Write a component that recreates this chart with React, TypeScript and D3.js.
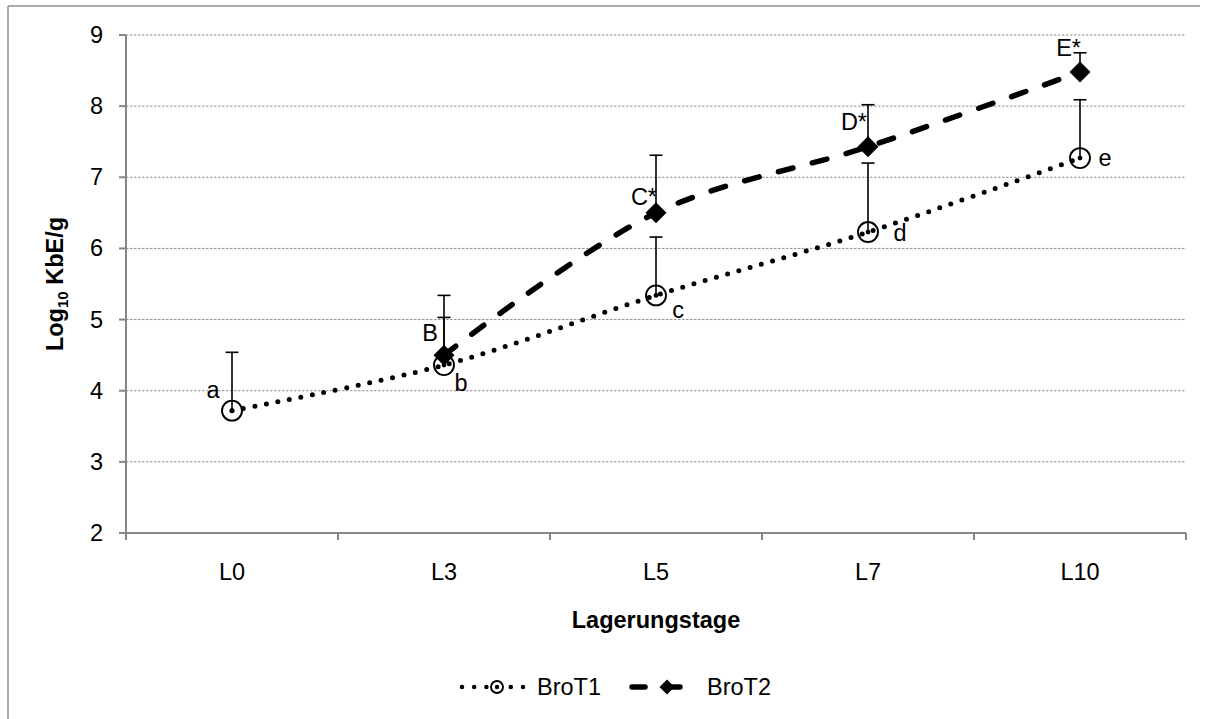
import React from "react";
import * as d3 from "d3";

const categories = ["L0", "L3", "L5", "L7", "L10"];
const brot1Values = [3.72, 4.36, 5.34, 6.23, 7.27];
const brot1ErrTop = [4.54, 5.03, 6.16, 7.2, 8.09];
const brot1Letters = ["a", "b", "c", "d", "e"];
const brot2Values = [null, 4.5, 6.5, 7.43, 8.48];
const brot2ErrTop = [null, 5.34, 7.31, 8.02, 8.75];
const brot2Letters = [null, "B", "C*", "D*", "E*"];
const yTicks = [2, 3, 4, 5, 6, 7, 8, 9];
const seriesNames = ["BroT1", "BroT2"];

// label placement (style, not data): [dx, dy, anchor]
const brot1LabelPos: [number, number, string][] = [
  [-19, -13, "middle"],
  [17, 26, "middle"],
  [22, 23, "middle"],
  [32, 9, "middle"],
  [25, 8, "middle"],
];
const brot2LabelPos: [number, number, string][] = [
  [0, 0, "middle"],
  [-14, -14, "middle"],
  [1, -8, "end"],
  [-1, -17, "end"],
  [1, -16, "end"],
];

if (typeof document !== "undefined") document.body.style.margin = "0";

const W = 1210;
const H = 719;
const FONT = "'Liberation Sans', Arial, sans-serif";
const FS = 23.5;

export default function App() {
  const left = 126;
  const right = 1186;
  const top = 35;
  const bottom = 533;
  const x = d3.scaleBand().domain(categories).range([left, right]);
  const cx = (c: string) => (x(c) as number) + x.bandwidth() / 2;
  const y = d3.scaleLinear().domain([2, 9]).range([bottom, top]);

  const line = d3
    .line<[number, number]>()
    .x((d) => d[0])
    .y((d) => d[1])
    .curve(d3.curveCatmullRom.alpha(0.5));

  const p1: [number, number][] = categories.map((c, i) => [cx(c), y(brot1Values[i])]);
  const p2: [number, number][] = [];
  categories.forEach((c, i) => {
    const v = brot2Values[i];
    if (v !== null) p2.push([cx(c), y(v)]);
  });

  const diamond = (px: number, py: number, r: number) =>
    `M${px},${py - r}L${px + r},${py}L${px},${py + r}L${px - r},${py}Z`;

  const boundaries = d3.range(categories.length + 1).map((i) => left + i * x.bandwidth());
  const gray = "#868686";

  return (
    <svg width={W} height={H} style={{ display: "block" }} fontFamily={FONT}>
      <rect x={0} y={0} width={W} height={H} fill="#fff" />
      {/* outer frame */}
      <line x1={8} y1={6} x2={1200} y2={6} stroke="#8c8c8c" strokeWidth={1.5} />
      <line x1={8} y1={6} x2={8} y2={H} stroke="#8c8c8c" strokeWidth={1.5} />

      {/* gridlines */}
      {yTicks.slice(1).map((t) => (
        <line
          key={"g" + t}
          x1={left}
          x2={right}
          y1={y(t)}
          y2={y(t)}
          stroke="#8c8c8c"
          strokeWidth={1}
          strokeDasharray="2.5 1.5"
        />
      ))}

      {/* axes */}
      <line x1={left} x2={left} y1={top} y2={bottom} stroke={gray} strokeWidth={2} />
      <line x1={left - 7} x2={right} y1={bottom} y2={bottom} stroke={gray} strokeWidth={2} />
      {yTicks.map((t) => (
        <g key={"yt" + t}>
          <line x1={left - 7} x2={left} y1={y(t)} y2={y(t)} stroke={gray} strokeWidth={2} />
          <text x={103} y={y(t) + 8} textAnchor="end" fontSize={FS} fill="#000">
            {t}
          </text>
        </g>
      ))}
      {boundaries.map((b, i) => (
        <line key={"xt" + i} x1={b} x2={b} y1={bottom} y2={bottom + 7} stroke={gray} strokeWidth={2} />
      ))}
      {categories.map((c) => (
        <text key={"xl" + c} x={cx(c)} y={580} textAnchor="middle" fontSize={FS} fill="#000">
          {c}
        </text>
      ))}

      {/* axis titles */}
      <text x={(left + right) / 2} y={628} textAnchor="middle" fontSize={FS} fontWeight="bold">
        Lagerungstage
      </text>
      <text
        transform={`translate(63,${(top + bottom) / 2}) rotate(-90)`}
        textAnchor="middle"
        fontSize={FS}
        fontWeight="bold"
      >
        Log
        <tspan fontSize={15} dy={5}>
          10
        </tspan>
        <tspan dy={-5}> KbE/g</tspan>
      </text>

      {/* lines */}
      <path
        d={line(p1) || ""}
        fill="none"
        stroke="#000"
        strokeWidth={5}
        strokeLinecap="round"
        strokeDasharray="0 11.7"
      />
      <path
        d={line(p2) || ""}
        fill="none"
        stroke="#000"
        strokeWidth={5.5}
        strokeLinecap="round"
        strokeDasharray="15 20"
      />

      {/* error bars */}
      {categories.map((c, i) => {
        const px = cx(c);
        const y0 = y(brot1Values[i]);
        const y1 = y(brot1ErrTop[i]);
        return (
          <g key={"e1" + c} stroke="#000" strokeWidth={1.6}>
            <line x1={px} x2={px} y1={y0} y2={y1} />
            <line x1={px - 6.5} x2={px + 6.5} y1={y1} y2={y1} />
          </g>
        );
      })}
      {categories.map((c, i) => {
        const v = brot2Values[i];
        const e = brot2ErrTop[i];
        if (v === null || e === null) return null;
        const px = cx(c);
        return (
          <g key={"e2" + c} stroke="#000" strokeWidth={1.6}>
            <line x1={px} x2={px} y1={y(v)} y2={y(e)} />
            <line x1={px - 6.5} x2={px + 6.5} y1={y(e)} y2={y(e)} />
          </g>
        );
      })}

      {/* markers */}
      {categories.map((c, i) => (
        <g key={"m1" + c}>
          <circle cx={cx(c)} cy={y(brot1Values[i])} r={10} fill="none" stroke="#000" strokeWidth={1.9} />
          <circle cx={cx(c)} cy={y(brot1Values[i])} r={2.4} fill="#000" />
        </g>
      ))}
      {categories.map((c, i) => {
        const v = brot2Values[i];
        if (v === null) return null;
        return <path key={"m2" + c} d={diamond(cx(c), y(v), 10.5)} fill="#000" />;
      })}

      {/* point labels */}
      {categories.map((c, i) => (
        <text
          key={"l1" + c}
          x={cx(c) + brot1LabelPos[i][0]}
          y={y(brot1Values[i]) + brot1LabelPos[i][1]}
          textAnchor={brot1LabelPos[i][2] as any}
          fontSize={FS}
        >
          {brot1Letters[i]}
        </text>
      ))}
      {categories.map((c, i) => {
        const v = brot2Values[i];
        const l = brot2Letters[i];
        if (v === null || l === null) return null;
        return (
          <text
            key={"l2" + c}
            x={cx(c) + brot2LabelPos[i][0]}
            y={y(v) + brot2LabelPos[i][1]}
            textAnchor={brot2LabelPos[i][2] as any}
            fontSize={FS}
          >
            {l}
          </text>
        );
      })}

      {/* legend */}
      <g>
        <line x1={462} x2={523} y1={687} y2={687} stroke="#000" strokeWidth={4.5} strokeLinecap="round" strokeDasharray="0 12.2" />
        <circle cx={497} cy={687} r={6} fill="#fff" stroke="#000" strokeWidth={1.9} />
        <circle cx={497} cy={687} r={2.2} fill="#000" />
        <text x={537} y={695} fontSize={FS}>
          {seriesNames[0]}
        </text>
        <line x1={632} x2={684} y1={687} y2={687} stroke="#000" strokeWidth={5.5} strokeLinecap="round" strokeDasharray="13 22" />
        <path d={diamond(667, 687, 7.5)} fill="#000" />
        <text x={707} y={695} fontSize={FS}>
          {seriesNames[1]}
        </text>
      </g>
    </svg>
  );
}
